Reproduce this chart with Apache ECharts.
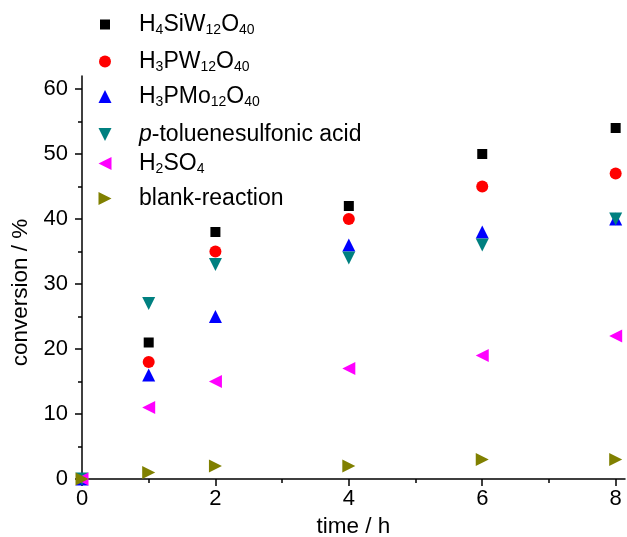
<!DOCTYPE html>
<html>
<head>
<meta charset="utf-8">
<script src="https://cdn.jsdelivr.net/npm/echarts@6/dist/echarts.min.js"></script>
<style>
html, body { margin: 0; padding: 0; background: #fff; }
#main { width: 627px; height: 537px; }
</style>
</head>
<body>
<div id="main"></div>
<script>
// time points (h)
var timeH = [0, 1, 2, 4, 6, 8];

// conversion (%) per catalyst
var siw = [0, 21, 38, 42, 50, 54];
var pw = [0, 18, 35, 40, 45, 47];
var pmo = [0, 16, 25, 36, 38, 40];
var ptsa = [0, 27, 33, 34, 36, 40];
var h2so4 = [0, 11, 15, 17, 19, 22];
var blank = [0, 1, 2, 2, 3, 3];

// tick values
var xMajor = [0, 2, 4, 6, 8];
var xMinor = [1, 3, 5, 7];
var yMajor = [0, 10, 20, 30, 40, 50, 60];
var yMinor = [5, 15, 25, 35, 45, 55];

var names = ['H4SiW12O40', 'H3PW12O40', 'H3PMo12O40', 'p-toluenesulfonic acid', 'H2SO4', 'blank-reaction'];
// legend labels with sub-scripts
var legendText = {
    'H4SiW12O40': 'H{sub|4}SiW{sub|12}O{sub|40}',
    'H3PW12O40': 'H{sub|3}PW{sub|12}O{sub|40}',
    'H3PMo12O40': 'H{sub|3}PMo{sub|12}O{sub|40}',
    'p-toluenesulfonic acid': '{it|p}-toluenesulfonic acid',
    'H2SO4': 'H{sub|2}SO{sub|4}',
    'blank-reaction': 'blank-reaction'
};

var font = 'Liberation Sans, Arial, sans-serif';
var legendRowY = [26, 63, 98, 136, 165, 200];
var icons = [
    { icon: 'rect', size: 10 },
    { icon: 'circle', size: 12 },
    { icon: 'path://M5,0L10,10L0,10Z', size: 13 },
    { icon: 'path://M0,0L10,0L5,10Z', size: 13 },
    { icon: 'path://M10,0L10,10L0,5Z', size: 13 },
    { icon: 'path://M0,0L10,5L0,10Z', size: 13 }
];

function pairs(ys) {
    var out = [];
    for (var i = 0; i < timeH.length; i++) {
        out.push([timeH[i], ys[i]]);
    }
    return out;
}

function mk(name, ys, symbol, size, color, rot) {
    return {
        name: name,
        type: 'scatter',
        data: pairs(ys),
        symbol: symbol,
        symbolSize: size,
        symbolRotate: rot || 0,
        itemStyle: { color: color, opacity: 1 },
        emphasis: { disabled: true }
    };
}

// one legend per row so each row sits where the original has it
var legends = [];
for (var i = 0; i < names.length; i++) {
    var s = icons[i].size;
    var left = 105 - s / 2;
    legends.push({
        orient: 'vertical',
        left: left,
        top: legendRowY[i] - 13,
        padding: 0,
        data: [{ name: names[i], icon: icons[i].icon }],
        itemWidth: s,
        itemHeight: s,
        selectedMode: false,
        formatter: function (n) { return legendText[n]; },
        textStyle: {
            fontFamily: font,
            fontSize: 23,
            color: '#000',
            padding: [0, 0, 0, 139 - left - s - 5],
            rich: {
                sub: { fontSize: 14, fontFamily: font, color: '#000', padding: [12, 0, 0, 0] },
                it: { fontSize: 23, fontFamily: font, fontStyle: 'italic', color: '#000' }
            }
        }
    });
}

var myChart = echarts.init(document.getElementById('main'));

myChart.setOption({
    animation: false,
    textStyle: { fontFamily: font },
    grid: { left: 82, right: 2, top: 76, bottom: 58, outerBoundsMode: 'none' },
    legend: legends,
    xAxis: [{
        type: 'value',
        min: 0,
        max: 8.14,
        interval: 2,
        name: 'time / h',
        nameLocation: 'middle',
        nameGap: 25,
        nameTextStyle: { fontSize: 22.5, color: '#000', fontFamily: font },
        splitLine: { show: false },
        axisLine: { lineStyle: { color: '#000', width: 1.5 } },
        axisTick: { customValues: xMajor, length: 7, lineStyle: { color: '#000', width: 1.5 } },
        axisLabel: { customValues: xMajor, fontSize: 22, color: '#000', margin: 9, fontFamily: font }
    }, {
        type: 'value',
        position: 'bottom',
        min: 0,
        max: 8.14,
        interval: 1,
        splitLine: { show: false },
        axisLine: { show: false },
        axisTick: { customValues: xMinor, length: 4, lineStyle: { color: '#000', width: 1.5 } },
        axisLabel: { show: false }
    }],
    yAxis: [{
        type: 'value',
        min: 0,
        max: 62,
        interval: 10,
        name: 'conversion / %',
        nameLocation: 'middle',
        nameGap: 47,
        nameTextStyle: { fontSize: 22.5, color: '#000', fontFamily: font, padding: [0, 30, 0, 0] },
        splitLine: { show: false },
        axisLine: { lineStyle: { color: '#000', width: 1.5 } },
        axisTick: { customValues: yMajor, length: 7, lineStyle: { color: '#000', width: 1.5 } },
        axisLabel: { customValues: yMajor, fontSize: 22, color: '#000', margin: 14, fontFamily: font }
    }, {
        type: 'value',
        position: 'left',
        min: 0,
        max: 62,
        interval: 5,
        splitLine: { show: false },
        axisLine: { show: false },
        axisTick: { customValues: yMinor, length: 4, lineStyle: { color: '#000', width: 1.5 } },
        axisLabel: { show: false }
    }],
    series: [
        mk(names[0], siw, 'rect', 10, '#000000'),
        mk(names[1], pw, 'circle', 12, '#ff0000'),
        mk(names[2], pmo, 'triangle', 13, '#0000ff'),
        mk(names[3], ptsa, 'triangle', 13, '#008080', 180),
        mk(names[4], h2so4, 'triangle', 13, '#ff00ff', 90),
        mk(names[5], blank, 'triangle', 13, '#808000', -90)
    ]
});

window.addEventListener('resize', function () {
    myChart.resize();
});
</script>
</body>
</html>
